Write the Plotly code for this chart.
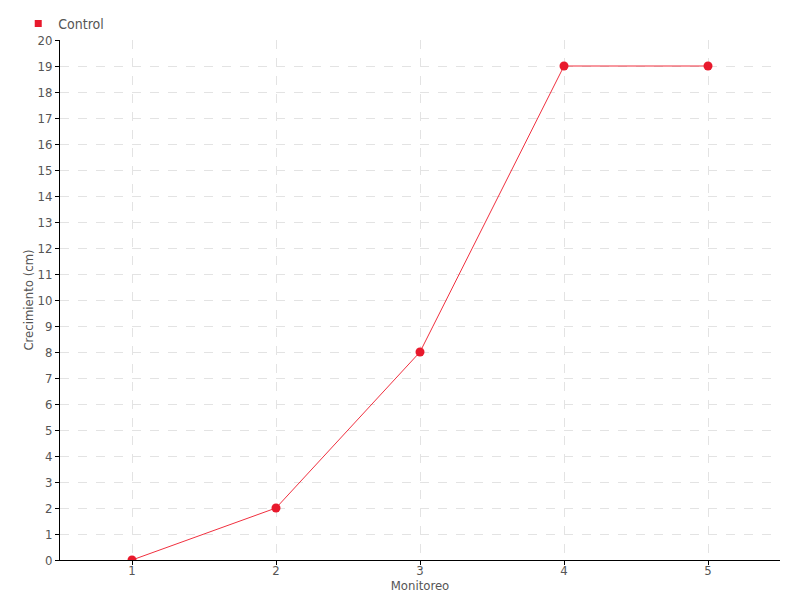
import plotly.graph_objects as go

monitoreo = [1, 2, 3, 4, 5]
control = [0, 2, 8, 19, 19]
y_ticks = list(range(0, 21))
series_name = "Control"

font_family = "Liberation Sans Narrow, DejaVu Sans Condensed, Roboto, sans-serif"
txt = "#555555"

fig = go.Figure()
fig.add_trace(go.Scatter(
    x=monitoreo, y=control, mode="lines+markers", name=series_name,
    line=dict(color="#f0303f", width=1),
    marker=dict(color="#e8192c", size=9),
    showlegend=False,
))
# legend entry (square swatch, as in the reference)
fig.add_trace(go.Scatter(
    x=[None], y=[None], mode="markers", name=series_name,
    marker=dict(color="#e8192c", size=7, symbol="square"),
    showlegend=True,
))

# the page body has an 8px margin; compensate so the plot sits where the reference does
fig.update_layout(
    width=792, height=592,
    margin=dict(l=52, r=20, t=32, b=40, autoexpand=False),
    paper_bgcolor="white", plot_bgcolor="white",
    font=dict(family=font_family, size=13, color=txt),
    showlegend=True,
    legend=dict(x=-0.058, y=1.0, xanchor="left", yanchor="bottom", orientation="h",
                font=dict(size=14, color=txt), itemwidth=30,
                bgcolor="rgba(0,0,0,0)"),
    xaxis=dict(
        range=[0.5, 5.5], tickvals=monitoreo, ticktext=[str(v) for v in monitoreo],
        showgrid=True, gridcolor="#e3e3e3", griddash="dash", gridwidth=1,
        showline=True, linecolor="black", linewidth=1,
        ticks="outside", ticklen=4, tickcolor="black",
        ticklabelstandoff=-6,
        zeroline=False, automargin=False,
        title=dict(text="Monitoreo", standoff=0, font=dict(size=13, color=txt)),
    ),
    yaxis=dict(
        range=[0, 20], tickvals=y_ticks,
        showgrid=True, gridcolor="#e3e3e3", griddash="dash", gridwidth=1,
        showline=True, linecolor="black", linewidth=1,
        ticks="outside", ticklen=4, tickcolor="black",
        zeroline=False, automargin=False,
        title=dict(text="Crecimiento (cm)", standoff=0, font=dict(size=13, color=txt)),
    ),
)

fig.write_html("out.html")
